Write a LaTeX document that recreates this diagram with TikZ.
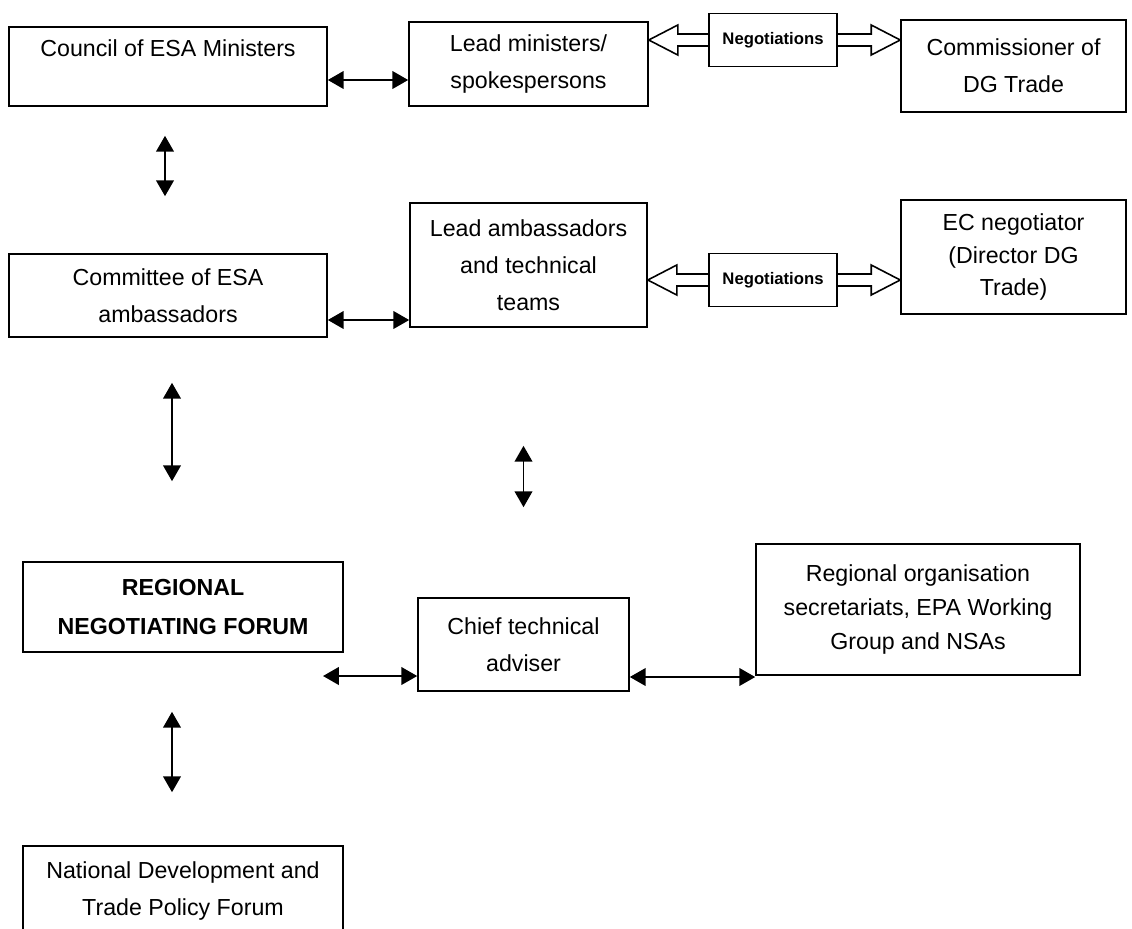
\documentclass[tikz,border=0pt]{standalone}
\usepackage{fontspec}
\setmainfont{Liberation Sans}
\usetikzlibrary{arrows.meta,calc}
\begin{document}
\begin{tikzpicture}[
    box/.style={draw, rectangle, line width=0.9pt, align=center, inner sep=0pt, font=\fontsize{13.2}{21}\selectfont},
    negbox/.style={draw, rectangle, line width=0.9pt, minimum width=2.56cm, minimum height=1.06cm, font=\fontsize{9.5}{11}\selectfont\bfseries},
    arrow/.style={line width=1.1pt, {Triangle[length=9pt,width=10pt]}-{Triangle[length=9pt,width=10pt]}},
    hollow/.style={line width=0.9pt, line join=miter}
]
\useasboundingbox (0,0) rectangle (22.64,-18.56);
\node[box, minimum width=6.36cm, minimum height=1.58cm] (council) at (3.36,-1.33) {Council of ESA Ministers\\\mbox{}};
\node[box, minimum width=4.78cm, minimum height=1.68cm] (lm) at (10.57,-1.28) {Lead ministers/\\spokespersons};
\node[negbox] (neg1) at (15.46,-0.80) {Negotiations};
\node[box, minimum width=4.50cm, minimum height=1.84cm] (com) at (20.27,-1.32) {Commissioner of\\DG Trade};
\node[box, minimum width=6.36cm, minimum height=1.66cm] (committee) at (3.36,-5.91) {Committee of ESA\\ambassadors};
\node[box, minimum width=4.74cm, minimum height=2.48cm] (lamb) at (10.57,-5.30) {Lead ambassadors\\and technical\\teams};
\node[negbox] (neg2) at (15.46,-5.60) {Negotiations};
\node[box, minimum width=4.50cm, minimum height=2.28cm, font=\fontsize{13.2}{18.5}\selectfont] (ecn) at (20.27,-5.14) {EC negotiator\\(Director DG\\Trade)};
\node[box, minimum width=6.40cm, minimum height=1.80cm, font=\fontsize{13.2}{22.5}\selectfont\bfseries] (rnf) at (3.66,-12.14) {REGIONAL\\NEGOTIATING FORUM};
\node[box, minimum width=4.22cm, minimum height=1.86cm] (cta) at (10.47,-12.89) {Chief technical\\adviser};
\node[box, minimum width=6.48cm, minimum height=2.62cm, font=\fontsize{13.2}{19.5}\selectfont] (reg) at (18.36,-12.19) {Regional organisation\\secretariats, EPA Working\\Group and NSAs};
\node[box, minimum width=6.40cm, minimum height=1.80cm] (ndf) at (3.66,-17.82) {National Development and\\Trade Policy Forum};
\coordinate (rfree) at (6.46,-13.52);
\draw[arrow] ([yshift=-0.27cm]council.east) -- ([yshift=-0.27cm]council.east -| lm.west);
\draw[arrow] ([yshift=-0.49cm]committee.east) -- ([yshift=-0.49cm]committee.east -| lamb.west);
\draw[arrow] (rfree) -- (rfree -| cta.west);
\draw[arrow] ([yshift=-0.65cm]cta.east) -- ([yshift=-0.65cm]cta.east -| reg.west);
\draw[arrow, shorten <=0.58cm, shorten >=1.14cm] ([xshift=-0.06cm]council.south) -- ([xshift=-0.06cm]council.south |- committee.north);
\draw[arrow, shorten <=0.90cm, shorten >=1.60cm] ([xshift=-0.22cm]rnf.north |- committee.south) -- ([xshift=-0.22cm]rnf.north);
\draw[arrow, shorten <=1.18cm, shorten >=1.06cm] ([xshift=-0.22cm]rnf.south) -- ([xshift=-0.22cm]rnf.south |- ndf.north);
\draw[arrow, shorten <=2.36cm, shorten >=1.80cm] (cta.north |- lamb.south) -- (cta.north);
\draw[hollow] ([yshift=0.12cm]neg1.west) -- ($(lm.east |- neg1.west)+(0.58,0.12)$) -- ++(0,0.18) -- (lm.east |- neg1.west) -- ++(0.58,-0.30) -- ++(0,0.18) -- ([yshift=-0.12cm]neg1.west);
\draw[hollow] ([yshift=0.12cm]neg1.east) -- ($(com.west |- neg1.east)+(-0.58,0.12)$) -- ++(0,0.18) -- (com.west |- neg1.east) -- ++(-0.58,-0.30) -- ++(0,0.18) -- ([yshift=-0.12cm]neg1.east);
\draw[hollow] ([yshift=0.12cm]neg2.west) -- ($(lamb.east |- neg2.west)+(0.58,0.12)$) -- ++(0,0.18) -- (lamb.east |- neg2.west) -- ++(0.58,-0.30) -- ++(0,0.18) -- ([yshift=-0.12cm]neg2.west);
\draw[hollow] ([yshift=0.12cm]neg2.east) -- ($(ecn.west |- neg2.east)+(-0.58,0.12)$) -- ++(0,0.18) -- (ecn.west |- neg2.east) -- ++(-0.58,-0.30) -- ++(0,0.18) -- ([yshift=-0.12cm]neg2.east);
\end{tikzpicture}
\end{document}
